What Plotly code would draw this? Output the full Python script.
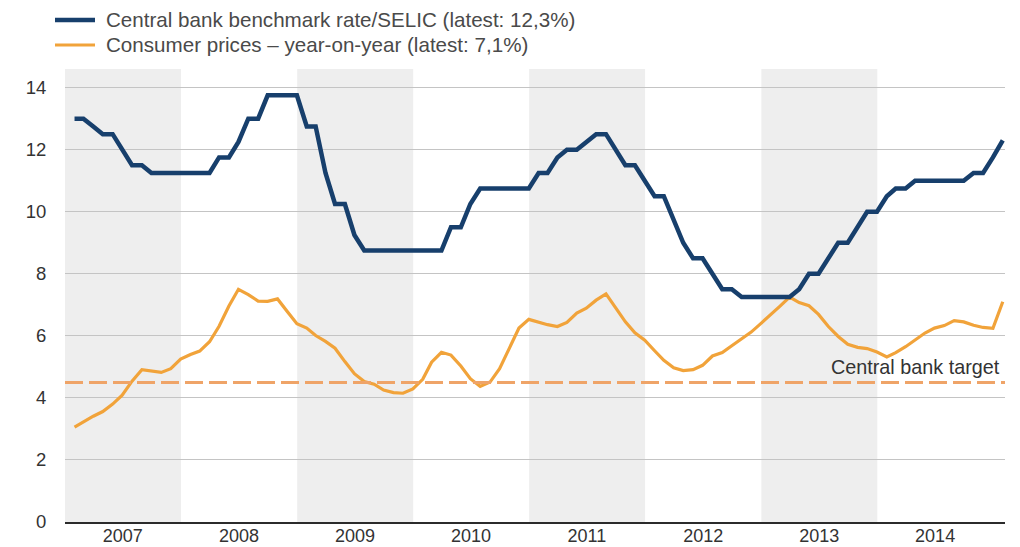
import pandas as pd
import plotly.graph_objects as go

# Monthly observations, January 2007 to January 2015 (month-end dates)
months = pd.date_range("2007-01-31", "2015-01-31", freq="ME")

# Central bank benchmark rate (SELIC), %
selic = [
    13.00, 13.00, 12.75, 12.50, 12.50, 12.00, 11.50, 11.50, 11.25, 11.25, 11.25, 11.25,  # 2007
    11.25, 11.25, 11.25, 11.75, 11.75, 12.25, 13.00, 13.00, 13.75, 13.75, 13.75, 13.75,  # 2008
    12.75, 12.75, 11.25, 10.25, 10.25, 9.25, 8.75, 8.75, 8.75, 8.75, 8.75, 8.75,         # 2009
    8.75, 8.75, 8.75, 9.50, 9.50, 10.25, 10.75, 10.75, 10.75, 10.75, 10.75, 10.75,       # 2010
    11.25, 11.25, 11.75, 12.00, 12.00, 12.25, 12.50, 12.50, 12.00, 11.50, 11.50, 11.00,  # 2011
    10.50, 10.50, 9.75, 9.00, 8.50, 8.50, 8.00, 7.50, 7.50, 7.25, 7.25, 7.25,            # 2012
    7.25, 7.25, 7.25, 7.50, 8.00, 8.00, 8.50, 9.00, 9.00, 9.50, 10.00, 10.00,            # 2013
    10.50, 10.75, 10.75, 11.00, 11.00, 11.00, 11.00, 11.00, 11.00, 11.25, 11.25, 11.75,  # 2014
    12.30,                                                                               # 2015
]

# Consumer prices, year-on-year change, %
cpi = [
    3.06, 3.24, 3.41, 3.56, 3.80, 4.09, 4.54, 4.91, 4.87, 4.82, 4.94, 5.25,  # 2007
    5.40, 5.51, 5.81, 6.31, 6.96, 7.50, 7.33, 7.12, 7.11, 7.19, 6.79, 6.39,  # 2008
    6.25, 6.01, 5.82, 5.60, 5.17, 4.78, 4.53, 4.44, 4.25, 4.17, 4.15, 4.29,  # 2009
    4.60, 5.15, 5.47, 5.38, 5.03, 4.62, 4.37, 4.51, 4.94, 5.62, 6.25, 6.53,  # 2010
    6.44, 6.36, 6.30, 6.43, 6.73, 6.89, 7.15, 7.35, 6.91, 6.45, 6.10, 5.86,  # 2011
    5.52, 5.21, 4.97, 4.88, 4.91, 5.05, 5.35, 5.46, 5.68, 5.91, 6.12, 6.40,  # 2012
    6.68, 6.95, 7.25, 7.07, 6.97, 6.69, 6.30, 5.98, 5.73, 5.63, 5.59, 5.48,  # 2013
    5.32, 5.46, 5.65, 5.86, 6.09, 6.25, 6.33, 6.49, 6.45, 6.34, 6.27, 6.24,  # 2014
    7.10,                                                                    # 2015
]

TARGET = 4.5
years = [2007, 2008, 2009, 2010, 2011, 2012, 2013, 2014]
year_labels = [str(y) for y in years]
shaded_years = [2007, 2009, 2011, 2013]
y_ticks = [0, 2, 4, 6, 8, 10, 12, 14]

BLUE = "#173f6c"
ORANGE = "#f1a33a"
FONT = "Liberation Sans, Arial, sans-serif"

legend_items = [
    ("Central bank benchmark rate/SELIC (latest: 12,3%)", BLUE, 4.5),
    ("Consumer prices \u2013 year-on-year (latest: 7,1%)", ORANGE, 3.2),
]

fig = go.Figure()

fig.add_trace(go.Scatter(
    x=months, y=cpi, mode="lines",
    line=dict(color=ORANGE, width=3.2),
    name=legend_items[1][0], showlegend=False,
))
fig.add_trace(go.Scatter(
    x=months, y=selic, mode="lines",
    line=dict(color=BLUE, width=4.5),
    name=legend_items[0][0], showlegend=False,
))

shapes = []
# alternating year bands
for yr in shaded_years:
    shapes.append(dict(
        type="rect", xref="x", yref="paper",
        x0=f"{yr}-01-01", x1=f"{yr + 1}-01-01", y0=0, y1=1,
        fillcolor="#eeeeee", line=dict(width=0), layer="below",
    ))
# inflation target
shapes.append(dict(
    type="line", xref="paper", yref="y", x0=0, x1=1, y0=TARGET, y1=TARGET,
    line=dict(color="#efa468", width=3, dash="18px,6px"), layer="above",
))

# legend drawn by hand above the plot
annotations = []
plot_w, plot_h, left, bottom_px = 940, 453, 65, 522
for i, (label, color, width) in enumerate(legend_items):
    ypix = 20 + 25 * i
    yp = (bottom_px - ypix) / plot_h
    shapes.append(dict(
        type="line", xref="paper", yref="paper",
        x0=(55 - left) / plot_w, x1=(95 - left) / plot_w, y0=yp, y1=yp,
        line=dict(color=color, width=width),
    ))
    annotations.append(dict(
        xref="paper", yref="paper", x=(104 - left) / plot_w, y=yp,
        xanchor="left", yanchor="middle", text=label, showarrow=False,
        font=dict(family=FONT, size=20.6, color="#4a4a4a"),
    ))

annotations.append(dict(
    xref="paper", yref="y", x=(1002 - left) / plot_w, y=TARGET,
    xanchor="right", yanchor="middle", yshift=15,
    text="Central bank target", showarrow=False,
    font=dict(family=FONT, size=19.8, color="#333333"),
))

fig.update_layout(
    width=1020, height=547, autosize=False,
    margin=dict(l=65, r=15, t=69, b=25, pad=0),
    paper_bgcolor="white", plot_bgcolor="white",
    font=dict(family=FONT, size=18, color="#333333"),
    shapes=shapes, annotations=annotations,
    showlegend=False,
    xaxis=dict(
        type="date", range=["2007-01-01", "2015-02-07"],
        tickvals=[f"{y}-07-02" for y in years], ticktext=year_labels,
        showgrid=False, zeroline=False, automargin=False,
        showline=True, linecolor="#2b2b2b", linewidth=2,
        ticks="", ticklabelstandoff=-4,
        tickfont=dict(size=18, color="#333333"),
    ),
    yaxis=dict(
        range=[0, 14.6], tickvals=y_ticks, automargin=False,
        showgrid=True, gridcolor="#c4c4c4", gridwidth=1,
        zeroline=False, showline=False,
        ticks="outside", ticklen=14, tickcolor="rgba(0,0,0,0)",
        tickfont=dict(size=18.5, color="#333333"),
    ),
)

fig.write_html("out.html")
